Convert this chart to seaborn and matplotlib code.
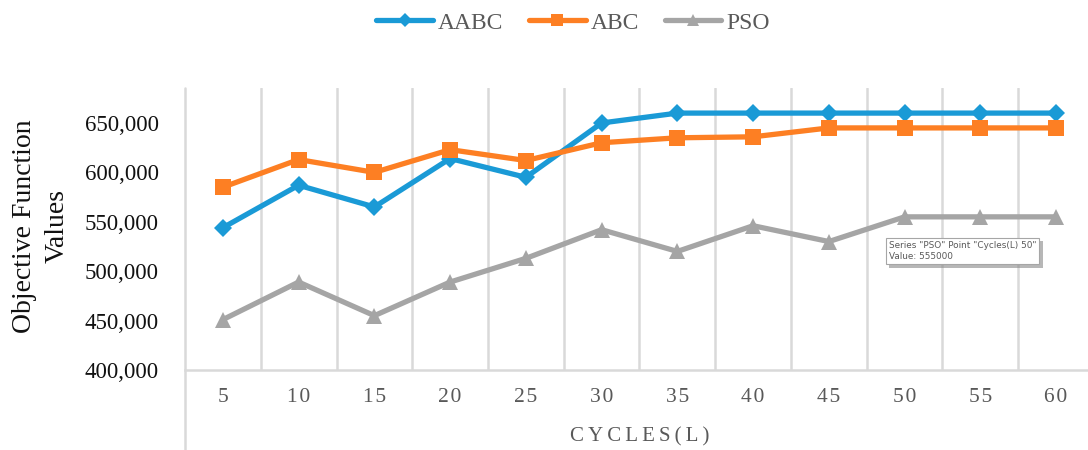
import matplotlib
matplotlib.use("Agg")
import matplotlib.pyplot as plt
import matplotlib.patheffects as pe
from matplotlib.lines import Line2D
from matplotlib.ticker import FuncFormatter
import pandas as pd
import seaborn as sns

# Objective function values per number of cycles
cycles = [5, 10, 15, 20, 25, 30, 35, 40, 45, 50, 55, 60]
aabc = [544000, 587000, 565000, 614000, 595000, 650000, 660000, 660000, 660000, 660000, 660000, 660000]
abc = [585000, 613000, 600000, 623000, 612000, 630000, 635000, 636000, 645000, 645000, 645000, 645000]
pso = [451000, 489000, 455000, 489000, 513000, 542000, 520000, 546000, 530000, 555000, 555000, 555000]
series_names = ["AABC", "ABC", "PSO"]
y_ticks = [400000, 450000, 500000, 550000, 600000, 650000]

palette = {"AABC": "#1a9ad6", "ABC": "#fd7f23", "PSO": "#a5a5a5"}
markers = {"AABC": "D", "ABC": "s", "PSO": "^"}
marker_sizes = {"AABC": 9, "ABC": 11.5, "PSO": 11.5}

df = pd.DataFrame({
    "Cycles": cycles * 3,
    "Value": aabc + abc + pso,
    "Algorithm": [n for n in series_names for _ in cycles],
})

sns.set_theme(style="white")
plt.rcParams["font.family"] = ["Liberation Serif", "DejaVu Serif"]

fig = plt.figure(figsize=(10.88, 4.5), dpi=100)
W, H = 1088, 450
ax_left, ax_bottom, ax_top, ax_right = 185, 370, 88, 1094
ax = fig.add_axes([ax_left / W, 1 - ax_bottom / H,
                   (ax_right - ax_left) / W, (ax_bottom - ax_top) / H])
ax.patch.set_alpha(0)

grid_c = "#d9d9d9"
# category boundary gridlines
for b in [c - 2.5 for c in cycles[1:]]:
    ax.axvline(b, color=grid_c, lw=1.8, zorder=0)

for name in series_names:
    sub = df[df["Algorithm"] == name]
    sns.lineplot(data=sub, x="Cycles", y="Value", ax=ax, color=palette[name],
                 marker=markers[name], markersize=marker_sizes[name],
                 markeredgewidth=0, linewidth=3.8, label=name, legend=False,
                 zorder=3)

ax.set_xlim(cycles[0] - 2.5, cycles[-1] + 2.5)
ax.set_ylim(400000, 685400)
ax.set_yticks(y_ticks)
ax.yaxis.set_major_formatter(FuncFormatter(lambda v, p: f"{int(v):,}"))
ax.set_xticks(cycles)
ax.set_xticklabels(["\u200a".join(str(c)) for c in cycles])

ax.tick_params(axis="y", length=0, pad=19, labelsize=16.5, labelcolor="#111111")
ax.tick_params(axis="x", length=0, pad=13, labelsize=15.5, labelcolor="#595959")

for s in ["top", "right", "left"]:
    ax.spines[s].set_visible(False)
ax.spines["bottom"].set_color(grid_c)
ax.spines["bottom"].set_linewidth(1.8)

# left boundary line running down through the label band
ax.add_line(Line2D([0, 0], [1, -(H - ax_bottom) / (ax_bottom - ax_top)],
                   transform=ax.transAxes, color=grid_c, lw=1.8,
                   clip_on=False, zorder=0))

ax.set_xlabel("\u2009".join("CYCLES(L)"), fontsize=15, color="#595959")
ax.xaxis.set_label_coords(0.5, -(437 - ax_bottom) / (ax_bottom - ax_top))
ax.xaxis.label.set_va("center")
ax.set_ylabel("Objective Function\nValues", fontsize=20, color="#111111",
              linespacing=1.4)
ax.yaxis.set_label_coords((41 - ax_left) / (ax_right - ax_left), 0.51)
ax.yaxis.label.set_va("center")

# hover-style data tip on the PSO point at 50 cycles
i50 = cycles.index(50)
tip = ax.annotate(f'Series "PSO" Point "Cycles(L) 50"\nValue: {pso[i50]}',
                  xy=(50, pso[i50]), xytext=(-16, -24),
                  textcoords="offset pixels", ha="left", va="top",
                  fontsize=6.4, color="#595959", family="DejaVu Sans",
                  linespacing=1.3, zorder=5,
                  bbox=dict(boxstyle="square,pad=0.35", fc="white",
                            ec="#a6a6a6", lw=0.8))
tip.get_bbox_patch().set_path_effects([
    pe.SimplePatchShadow(offset=(2.5, -2.5), shadow_rgbFace="#888888", alpha=0.6),
    pe.Normal()])

handles = [Line2D([], [], color=palette[n], marker=markers[n],
                  markersize=marker_sizes[n] * 0.8, markeredgewidth=0,
                  linewidth=3.8) for n in series_names]
leg = fig.legend(handles, series_names, loc="center", ncol=3,
                 bbox_to_anchor=(573 / W, 1 - 23 / H), frameon=False,
                 fontsize=17, handlelength=2.4, handletextpad=0.2,
                 columnspacing=1.1)
for t in leg.get_texts():
    t.set_color("#595959")

fig.savefig("out.png", dpi=100)
